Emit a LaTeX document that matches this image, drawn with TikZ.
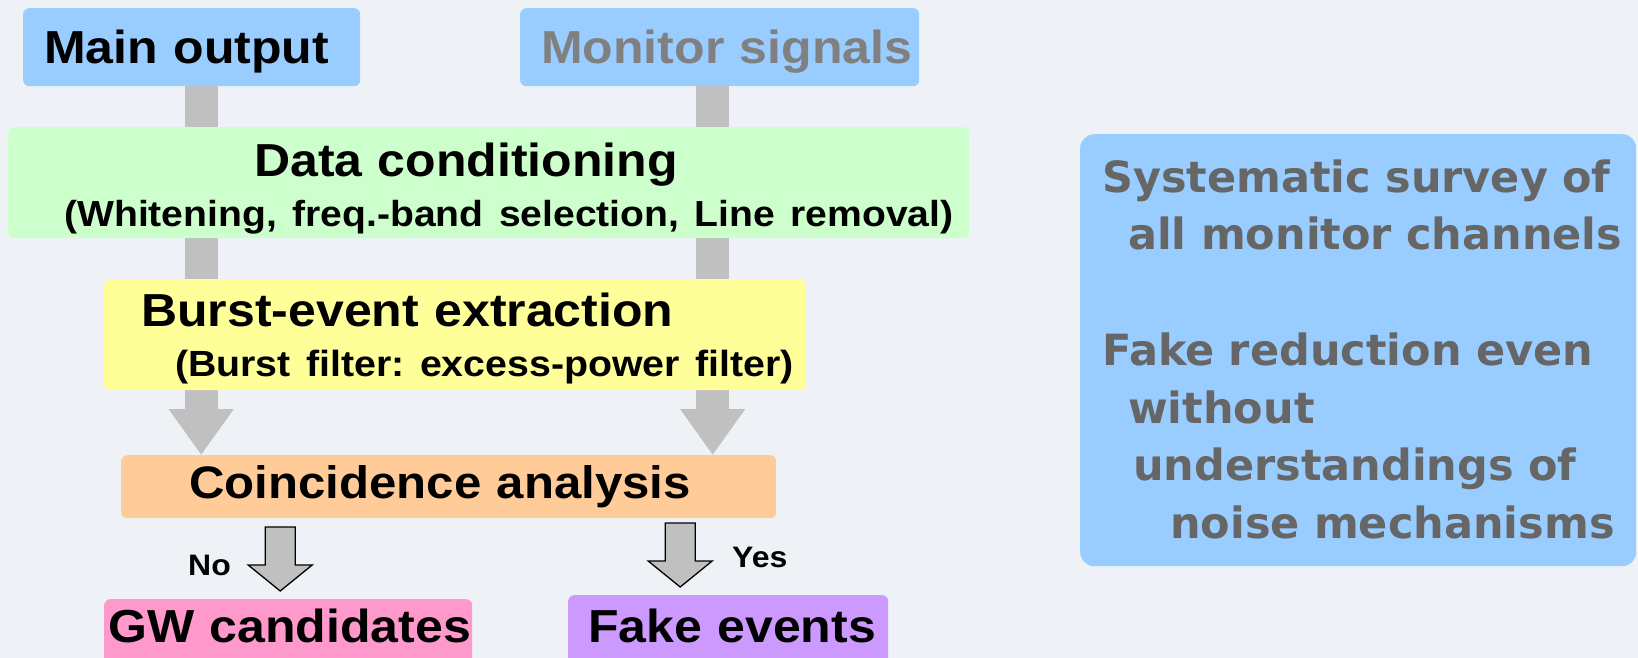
\documentclass[tikz,border=0pt]{standalone}
\usepackage{fontspec}
\newfontfamily\boxfont[FakeStretch=1.08]{Liberation Sans}
\newfontfamily\notefont{DejaVu Sans}
\usetikzlibrary{arrows.meta,positioning}

\definecolor{skyblue}{HTML}{99CCFF}
\definecolor{mint}{HTML}{CCFFCC}
\definecolor{lemon}{HTML}{FFFF99}
\definecolor{peach}{HTML}{FFCC99}
\definecolor{rose}{HTML}{FF99CC}
\definecolor{lilac}{HTML}{CC99FF}
\definecolor{bargray}{HTML}{C0C0C0}
\definecolor{textgray}{HTML}{808080}
\definecolor{notegray}{HTML}{666666}
\definecolor{bgblue}{HTML}{EEF2F7}

\pgfdeclarelayer{bg}
\pgfdeclarelayer{links}
\pgfsetlayers{bg,links,main}
\frenchspacing

\begin{document}
\begin{tikzpicture}[x=1pt, y=-1pt,
		box/.style   = {anchor=north west, inner sep=0pt, rounded corners=6pt, align=left},
		big/.style   = {font=\boxfont\bfseries\fontsize{46.3pt}{50pt}\selectfont},
		small/.style = {font=\boxfont\bfseries\fontsize{29.6pt}{32pt}\selectfont, inner sep=0pt},
		note/.style  = {font=\notefont\bfseries\fontsize{43pt}{57.7pt}\selectfont, text=notegray},
		bar/.style   = {line width=33pt, draw=bargray, -{Triangle[width=62pt, length=46pt]}},
		hollow/.pic  = {\filldraw[fill=bargray, draw=black, line width=1.3pt]
			(-15,-72) -- (-15,-34) -- (-32,-34) -- (0,-8) -- (32,-34) -- (15,-34) -- (15,-72) -- cycle;}]
		
		\useasboundingbox (0,0) rectangle (1638,658);
		\begin{pgfonlayer}{bg}
			\fill[bgblue] (0,0) rectangle (1638,658);
		\end{pgfonlayer}
		
		% inputs
		\node[box, big, fill=skyblue, text width=337pt, text height=55pt, text depth=23pt] (main) at (23,8)
			{\hspace*{21pt}\mbox{Main output}};
		\node[box, big, fill=skyblue, text=textgray, text width=399pt, text height=55pt, text depth=23pt] (monitor) at (520,8)
			{\hspace*{21pt}\mbox{Monitor signals}};
		
		% processing chain
		\node[box, big, fill=mint, text width=961pt, text height=49pt, text depth=62pt] (cond) at (8,127)
			{\hspace*{246pt}\mbox{Data conditioning}\\
			\fontsize{36.2pt}{50pt}\selectfont\hspace*{56pt}\mbox{(Whitening, freq.-band selection, Line removal)}};
		\node[box, big, fill=lemon, text width=702pt, text height=47pt, text depth=64pt] (burst) at (104,279)
			{\hspace*{37pt}\mbox{Burst-event extraction}\\
			\fontsize{36.4pt}{46pt}\selectfont\hspace*{71pt}\mbox{(Burst filter: excess-power filter)}};
		\node[box, big, fill=peach, text width=655pt, text height=43pt, text depth=20pt] (coinc) at (121,455)
			{\hspace*{68pt}\mbox{\fontsize{45.5pt}{50pt}\selectfont Coincidence analysis}};
		
		% outcomes
		\node[box, big, fill=rose, text width=368pt, text height=43pt, text depth=22pt] (gw) at (104,599)
			{\hspace*{4pt}\mbox{GW candidates}};
		\node[box, big, fill=lilac, text width=320pt, text height=47pt, text depth=22pt] (fake) at (568,595)
			{\hspace*{20pt}\mbox{Fake events}};
		
		% side remark
		\node[box, note, fill=skyblue, rounded corners=14pt, text width=556pt, text height=58pt, text depth=374pt] (survey) at (1080,134)
			{\hspace*{22pt}Systematic survey of\\
			\hspace*{48pt}all monitor channels\\[57.7pt]
			\hspace*{22pt}Fake reduction even\\
			\hspace*{48pt}without\\
			\hspace*{53pt}understandings of\\
			\hspace*{90pt}noise mechanisms};
		
		% gray streams behind the boxes
		\coordinate (lbar) at ([xshift=9.5pt]main.south);
		\coordinate (rbar) at ([xshift=-7pt]monitor.south);
		\begin{pgfonlayer}{links}
			\draw[bar] (lbar) -- (lbar |- coinc.north);
			\draw[bar] (rbar) -- (rbar |- coinc.north);
		\end{pgfonlayer}
		
		% decisions
		\pic at ([xshift=-8pt]gw.north) {hollow};
		\pic at ([xshift=-48pt]fake.north) {hollow};
		\node[small, anchor=base west] (no) at (188,575) {No};
		\node[small, anchor=base west] (yes) at (732,567) {Yes};
		
	\end{tikzpicture}
\end{document}
